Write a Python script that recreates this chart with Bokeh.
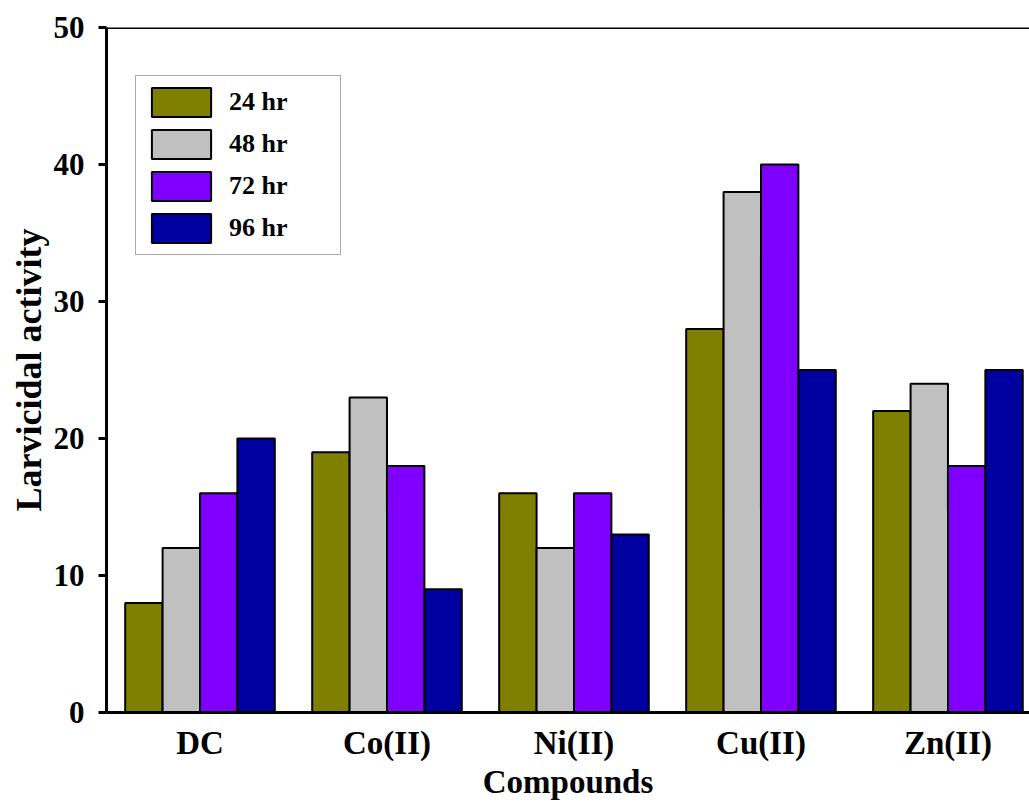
import numpy as np
from bokeh.plotting import figure
from bokeh.models import (ColumnDataSource, Range1d, FixedTicker, Legend, LegendItem, Span)
from bokeh.transform import dodge
from bokeh.embed import file_html
from bokeh.resources import INLINE

categories = ["DC", "Co(II)", "Ni(II)", "Cu(II)", "Zn(II)"]
series_names = ["24 hr", "48 hr", "72 hr", "96 hr"]
h24 = [8, 19, 16, 28, 22]
h48 = [12, 23, 12, 38, 24]
h72 = [16, 18, 16, 40, 18]
h96 = [20, 9, 13, 25, 25]
colors = ["#808000", "#C0C0C0", "#8000FF", "#0000A0"]
y_ticks = [0, 10, 20, 30, 40, 50]

pos = list(np.arange(len(categories)) + 0.5)
src = ColumnDataSource(dict(x=pos, h24=h24, h48=h48, h72=h72, h96=h96))

FONT = "Liberation Serif"

p = figure(frame_width=923, frame_height=685, output_backend="svg", toolbar_location=None,
           x_range=Range1d(0, 4.936), y_range=Range1d(0, 50),
           min_border_left=106, min_border_top=27, min_border_bottom=10, min_border_right=0)
p.outline_line_color = None
p.xgrid.grid_line_color = None
p.ygrid.grid_line_color = None

renderers = []
offsets = [-0.3, -0.1, 0.1, 0.3]
for col, off, c in zip(["h24", "h48", "h72", "h96"], offsets, colors):
    r = p.vbar(x=dodge("x", off), top=col, width=0.2, source=src,
               fill_color=c, line_color="black", line_width=2)
    renderers.append(r)

for ax in (p.xaxis[0], p.yaxis[0]):
    ax.axis_line_width = 3
    ax.axis_line_color = "black"
    ax.major_label_text_font = FONT
    ax.major_label_text_font_style = "bold"
    ax.major_label_text_color = "black"
    ax.axis_label_text_font = FONT
    ax.axis_label_text_font_style = "bold"
    ax.axis_label_text_color = "black"
    ax.minor_tick_line_color = None

p.xaxis.ticker = FixedTicker(ticks=pos)
p.xaxis.major_label_overrides = {float(v): c for v, c in zip(pos, categories)}
p.xaxis.major_tick_line_color = None
p.xaxis.major_label_text_font_size = "33px"
p.xaxis.major_label_standoff = 6
p.xaxis.axis_label = "Compounds"
p.xaxis.axis_label_text_font_size = "33px"
p.xaxis.axis_label_standoff = 0

p.yaxis.ticker = FixedTicker(ticks=y_ticks)
p.yaxis.major_tick_out = 8
p.yaxis.major_tick_in = 0
p.yaxis.major_tick_line_width = 3
p.yaxis.major_label_text_font_size = "31px"
p.yaxis.major_label_standoff = 14
p.yaxis.axis_label = "Larvicidal activity"
p.yaxis.axis_label_text_font_size = "36px"
p.yaxis.axis_label_standoff = 2

p.add_layout(Span(location=50, dimension="width", line_color="black", line_width=3))

legend = Legend(items=[LegendItem(label=n, renderers=[r]) for n, r in zip(series_names, renderers)],
                location=(29, 457), glyph_width=74, glyph_height=36, spacing=6,
                padding=8, label_standoff=11, label_width=103,
                border_line_color="#555555", border_line_width=1.5,
                label_text_font=FONT, label_text_font_style="bold",
                label_text_font_size="26px", label_text_color="black",
                background_fill_alpha=1.0)
p.add_layout(legend)

open("out.html", "w").write(file_html(p, INLINE))
